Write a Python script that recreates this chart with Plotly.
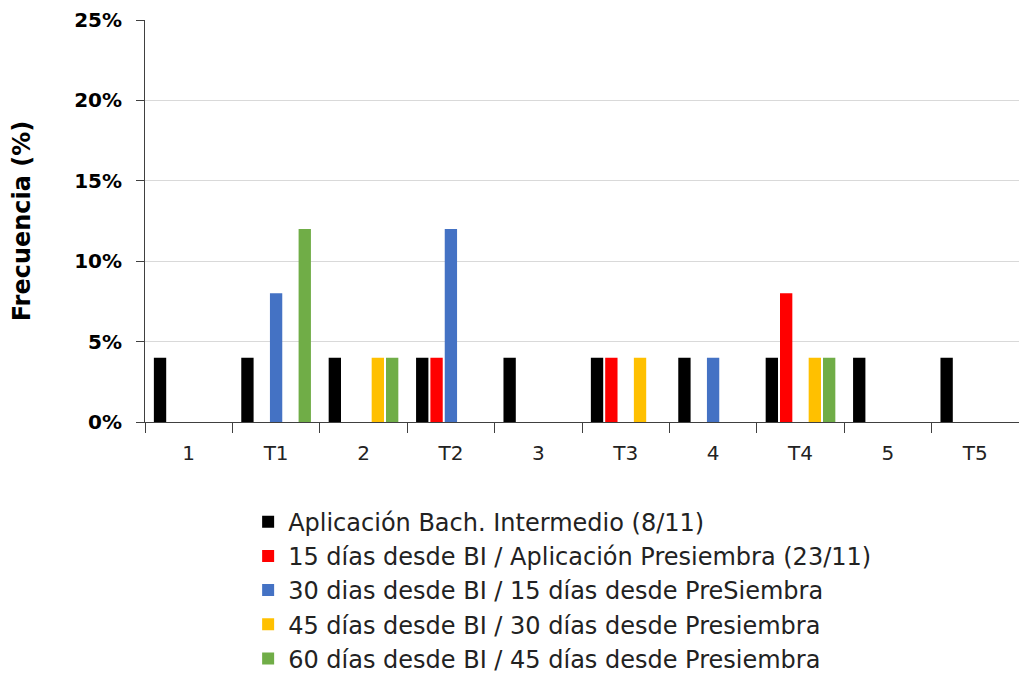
import plotly.graph_objects as go

categories = ["1", "T1", "2", "T2", "3", "T3", "4", "T4", "5", "T5"]

series_names = [
    "Aplicación Bach. Intermedio (8/11)",
    "15 días desde BI / Aplicación Presiembra (23/11)",
    "30 dias desde BI / 15 días desde PreSiembra",
    "45 días desde BI / 30 días desde Presiembra",
    "60 días desde BI / 45 días desde Presiembra",
]

aplicacion_bi = [0.04, 0.04, 0.04, 0.04, 0.04, 0.04, 0.04, 0.04, 0.04, 0.04]
dias_15 = [0, 0, 0, 0.04, 0, 0.04, 0, 0.08, 0, 0]
dias_30 = [0, 0.08, 0, 0.12, 0, 0, 0.04, 0, 0, 0]
dias_45 = [0, 0, 0.04, 0, 0, 0.04, 0, 0.04, 0, 0]
dias_60 = [0, 0.12, 0.04, 0, 0, 0, 0, 0.04, 0, 0]

series_values = [aplicacion_bi, dias_15, dias_30, dias_45, dias_60]
colors = ["#000000", "#ff0000", "#4472c4", "#ffc000", "#70ad47"]

font_family = "Century Gothic, DejaVu Sans, sans-serif"

fig = go.Figure()
for name, vals, col in zip(series_names, series_values, colors):
    fig.add_trace(go.Bar(
        x=categories, y=vals, name=name,
        marker=dict(color=col, line=dict(width=0)),
        legendgroup=name,
    ))

fig.update_layout(
    width=1019, height=682,
    margin=dict(l=145, r=0, t=20, b=260, autoexpand=False),
    paper_bgcolor="white", plot_bgcolor="white",
    barmode="group", bargap=0.18, bargroupgap=0.14,
    font=dict(family=font_family, color="#000000"),
    showlegend=True,
    legend=dict(
        orientation="v", x=0.118, xanchor="left", y=-0.193, yanchor="top",
        font=dict(size=24, color="#222222", family=font_family),
        tracegroupgap=0, itemwidth=30,
    ),
    xaxis=dict(
        type="category", tickson="boundaries", ticks="outside", ticklen=10,
        tickcolor="#404040", showline=True, linecolor="#404040", linewidth=1,
        tickfont=dict(size=20, color="#222222"), showgrid=False,
        ticklabelstandoff=13, automargin=False,
    ),
    yaxis=dict(
        range=[0, 0.25], tickvals=[0, 0.05, 0.10, 0.15, 0.20, 0.25],
        tickformat=".0%", ticks="outside", ticklen=8, tickcolor="#404040",
        showline=True, linecolor="#404040", linewidth=1,
        gridcolor="#d9d9d9", gridwidth=1, zeroline=False, automargin=False,
        ticklabelstandoff=10,
        tickfont=dict(size=20, color="#000000", weight="bold"),
        title=dict(text="Frecuencia (%)", font=dict(size=24, weight="bold"), standoff=36),
    ),
)

fig.write_html("out.html")
